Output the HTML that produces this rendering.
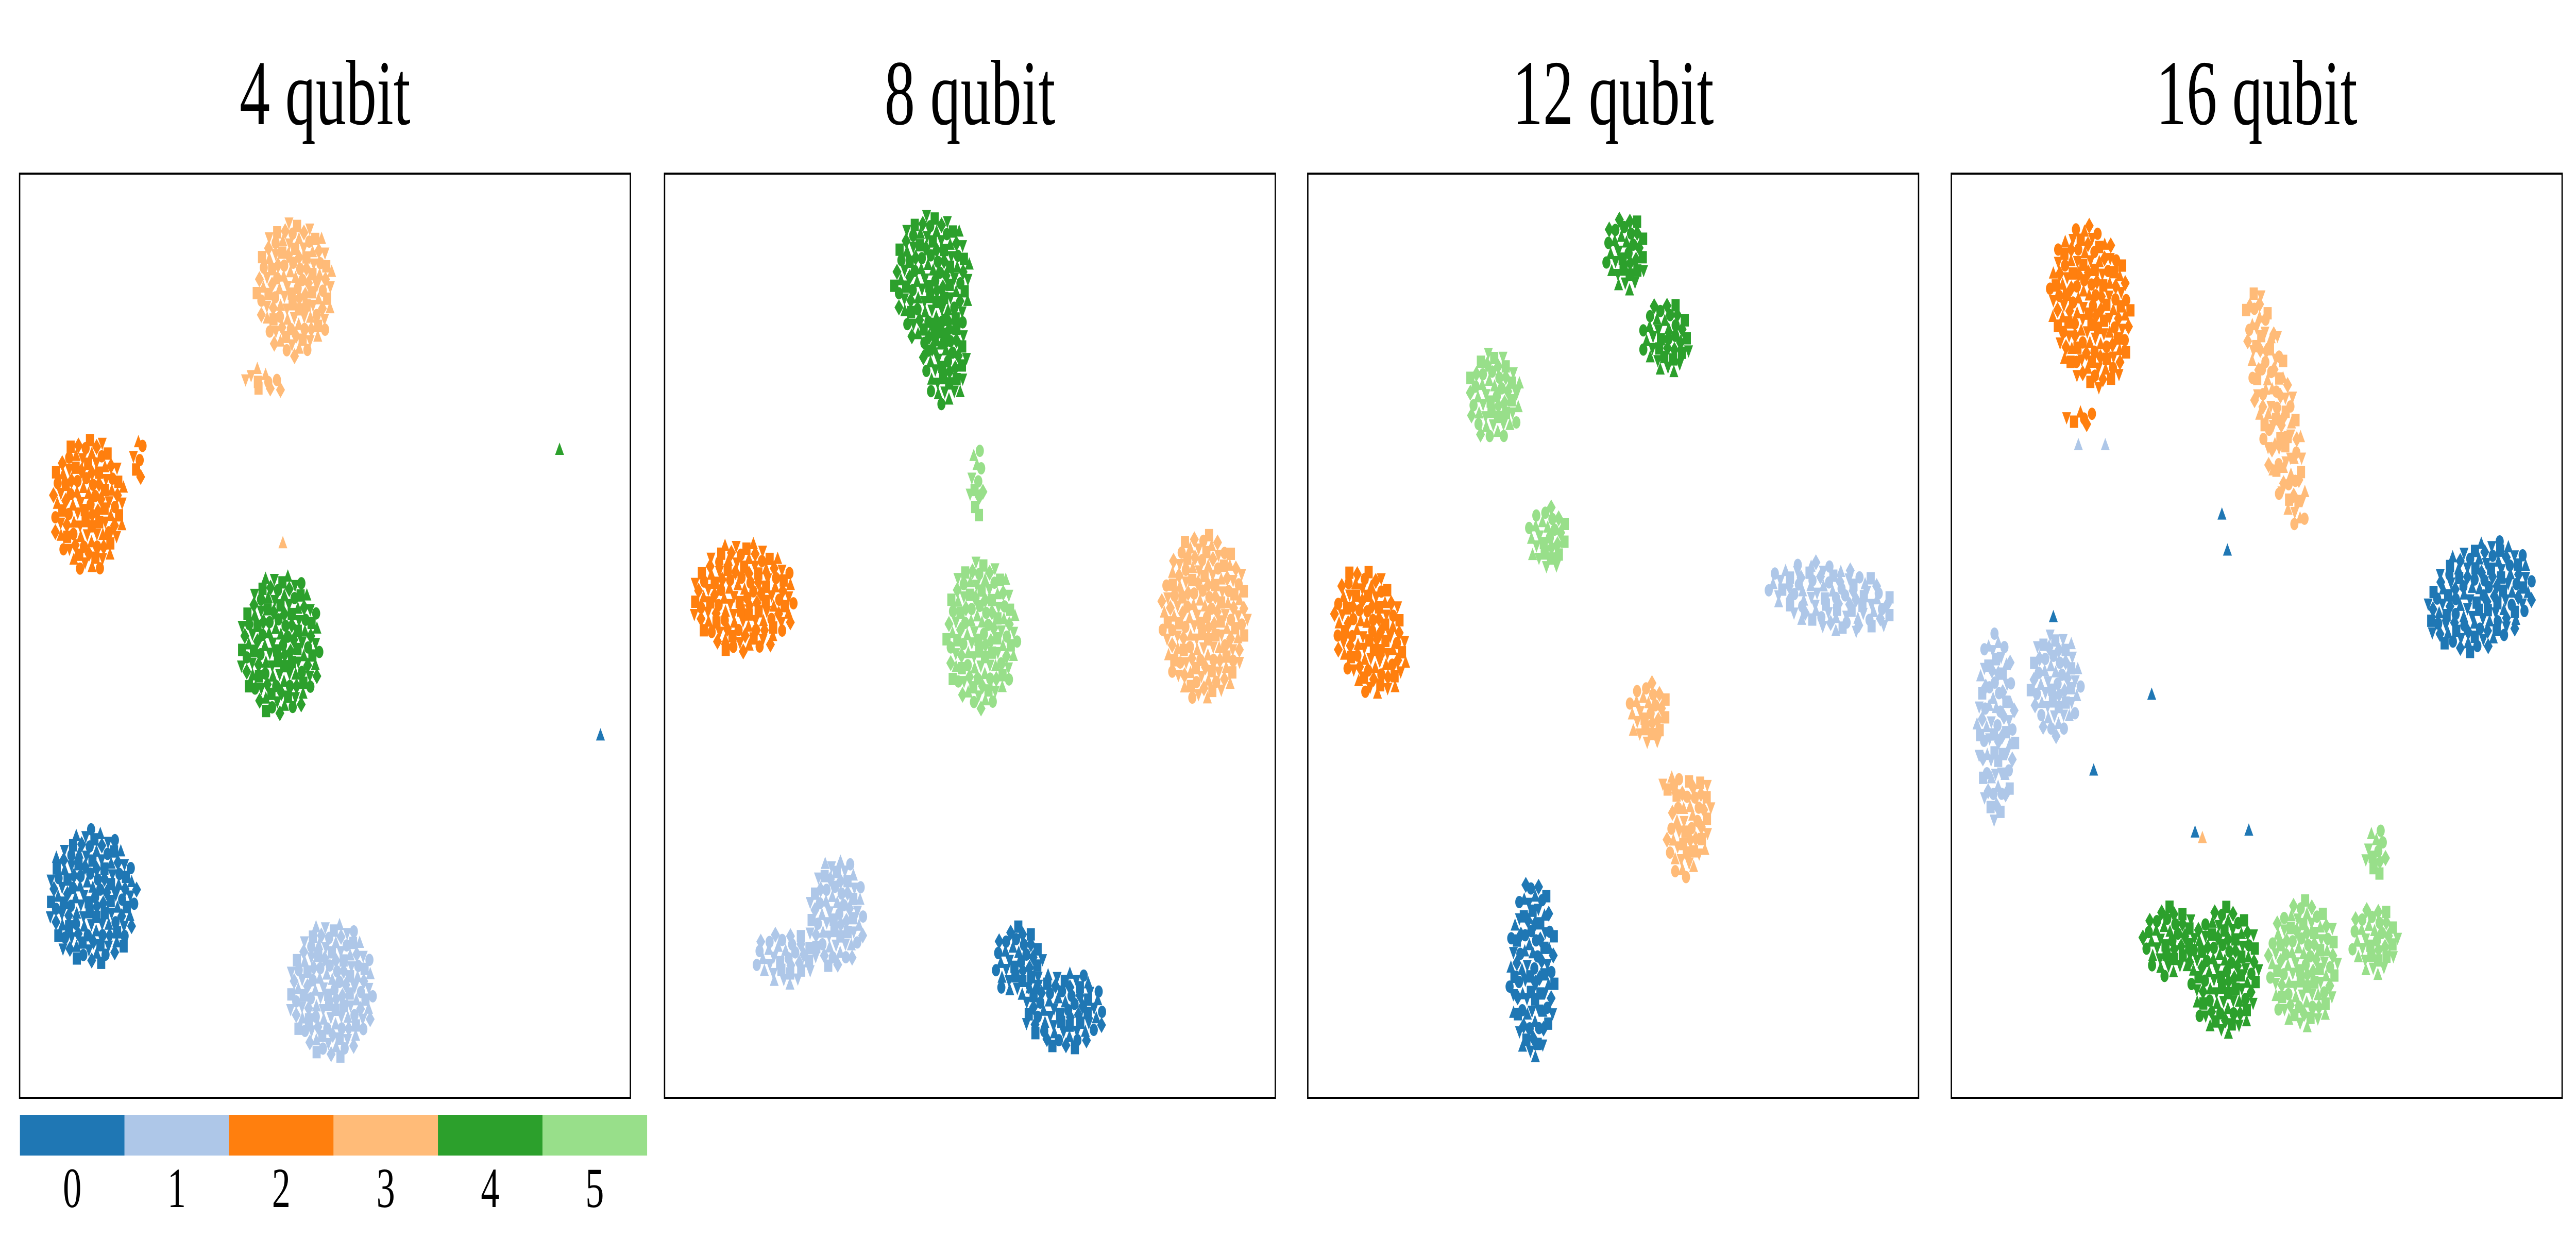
<!DOCTYPE html>
<html><head><meta charset="utf-8"><style>
html,body{margin:0;padding:0;background:#fff;width:100%;height:100%;overflow:hidden;}
svg{display:block;width:100%;height:100%;}
text{font-family:"Liberation Serif","DejaVu Serif",serif;fill:#000;}
</style></head><body>
<svg id="chart" xmlns="http://www.w3.org/2000/svg" viewBox="0 0 7617 2438" preserveAspectRatio="none">
<rect width="7617" height="2438" fill="#fff"/>
<g id="panels"></g>
<g id="colorbar"></g>
</svg>
<script>
// ---- data ----
const panelTitles = ["4 qubit", "8 qubit", "12 qubit", "16 qubit"];
const classLabels = ["0", "1", "2", "3", "4", "5"];
const classColors = ["#1f77b4", "#aec7e8", "#ff7f0e", "#ffbb78", "#2ca02c", "#98df8a"];
// clusters (data coords 0-100, y upwards)
const cPanel = [0,0,0,0,0,0,0, 1,1,1,1,1,1,1,1,1,1, 2,2,2,2,2,2,2,2,2,2, 3,3,3,3,3,3,3,3,3,3,3];
const cClass = [3,3,2,2,4,0,1, 4,4,5,5,2,3,1,1,0,0, 4,4,5,5,2,1,3,3,3,0, 2,2,3,0,1,1,4,4,5,5,5];
const cX     = [45.1,40,11.2,19.4,42.7,11.9,51.1, 43.9,46.0,51.1,51.9,13.0,88.4,28.2,19.7,57.9,65.5, 52.1,58.6,30.5,39.2,10.2,85.7,55.7,62.5,59.5,36.8, 22.8,21.0,53.1,86.6,7.3,17.0,35.7,44.7,57.6,69.2,69.5];
const cY     = [87.6,77.6,64.2,69.0,49.0,21.7,11.7, 88.4,79.7,66.7,50.2,54.1,52.0,19.9,15.1,14.7,9.5, 91.4,82.3,75.9,60.6,50.3,54.2,41.6,29.3,33.8,14.0, 85.6,73.5,74.6,54.2,40.3,44.8,17.0,13.7,14.4,17.0,26.7];
const cRx    = [6.4,3.3,6.0,0.9,6.7,7.4,7.1, 6.4,3.8,1.3,5.9,8.5,7.2,4.7,5.1,4.2,6.8, 3.5,4.2,4.5,3.2,5.5,10.6,3.2,3.5,1.6,3.9, 6.5,2.5,3.2,9.0,3.2,4.2,4.5,5.8,5.8,3.9,2.0];
const cRy    = [7.4,1.3,7.4,3.0,7.8,7.4,7.4, 7.4,4.8,3.9,8.2,6.1,9.1,6.1,3.0,3.9,4.3, 4.2,3.9,4.9,3.6,7.5,3.6,3.6,5.8,1.3,9.7, 9.1,1.0,13.6,5.8,10.4,5.8,3.9,7.1,7.1,3.9,2.6];
const cRot   = [0,-12,0,0,0,0,0, 0,0,0,0,0,0,0,0,0,0, 0,-25,0,0,30,-8,0,-20,0,0, 15,0,17,15,0,0,0,0,0,0,0];
// isolated points
const sPanel = [0,0,0, 3,3,3,3,3,3,3,3,3,3];
const sClass = [4,0,3, 0,0,0,0,0,0,0,3,1,1];
const sX     = [88.4,95.1,43.1, 16.7,32.8,23.3,39.9,48.7,44.3,45.2,41.1,20.8,25.2];
const sY     = [70.1,39.2,60.0, 52.0,43.6,35.4,28.7,28.9,63.1,59.2,28.1,70.6,70.6];

// ---- layout ----
const panelLeft = [58, 1965, 3867, 5770];
const panelTop = 337, panelW = 1806, panelH = 1794;
const NS = "http://www.w3.org/2000/svg";
function xScale(p, v){ return panelLeft[p] + v/100*panelW; }
function yScale(v){ return panelTop + (1 - v/100)*panelH; }
function mk(tag, attrs, parent){ const e=document.createElementNS(NS,tag); for(const k in attrs) e.setAttribute(k,attrs[k]); parent.appendChild(e); return e; }

function marker(parent, x, y, shape, color){
  const s = 12;
  let e;
  if(shape===0){ e=mk("circle",{cx:x.toFixed(1),cy:y.toFixed(1),r:s,fill:color},parent); }
  else if(shape===1){ e=mk("rect",{x:(x-s).toFixed(1),y:(y-s).toFixed(1),width:2*s,height:2*s,fill:color},parent); }
  else if(shape===2){ e=mk("polygon",{points:`${x},${y-s*1.2} ${x+s*1.1},${y+s*0.8} ${x-s*1.1},${y+s*0.8}`,fill:color},parent); }
  else if(shape===3){ e=mk("polygon",{points:`${x},${y-s*1.3} ${x+s*1.1},${y} ${x},${y+s*1.3} ${x-s*1.1},${y}`,fill:color},parent); }
  else { e=mk("polygon",{points:`${x},${y+s*1.2} ${x+s*1.1},${y-s*0.8} ${x-s*1.1},${y-s*0.8}`,fill:color},parent); }
  return e;
}

const gPanels = document.getElementById("panels");
for(let p=0;p<4;p++){
  const g = mk("g",{},gPanels);
  
  
  const t = mk("text",{x:panelLeft[p]+panelW/2,y:241,"font-size":180,"text-anchor":"middle"},g);
  t.textContent = panelTitles[p];
  
  
  const pts = mk("g",{},g);
  
  
  for(let c=0;c<cPanel.length;c++){
    if(cPanel[c]!==p) continue;
    const cx=xScale(p,cX[c]), cy=yScale(cY[c]);
    const rx=cRx[c]/100*panelW, ry=cRy[c]/100*panelH;
    const n=Math.max(6, Math.round(rx*ry/140));
    const a=cRot[c]*Math.PI/180;
    const col=classColors[cClass[c]];
    for(let i=0;i<n;i++){
      const r=Math.sqrt((i+0.5)/n);
      const th=i*2.39996;
      const ux=r*Math.cos(th)*rx, uy=r*Math.sin(th)*ry;
      const x=cx+ux*Math.cos(a)+uy*Math.sin(a);
      const y=cy-ux*Math.sin(a)+uy*Math.cos(a);
      marker(pts,x,y,i%5,col);
    }
  }
  for(let s=0;s<sPanel.length;s++){
    if(sPanel[s]!==p) continue;
    const m = marker(pts,xScale(p,sX[s]),yScale(sY[s]),2,classColors[sClass[s]]);
    
    
  }
  const fr = mk("rect",{x:panelLeft[p],y:panelTop,width:panelW,height:panelH,fill:"none",stroke:"#000","stroke-width":4},g);
  
  
}

// ---- colorbar ----
const cb = document.getElementById("colorbar");
const cbLeft=59, cbTop=2164, cbSeg=309, cbH=79;
for(let k=0;k<classLabels.length;k++){
  const r = mk("rect",{x:cbLeft+k*cbSeg,y:cbTop,width:cbSeg+0.5,height:cbH,fill:classColors[k]},cb);
  
  
  const t = mk("text",{x:cbLeft+k*cbSeg+cbSeg/2,y:2343,"font-size":110,"text-anchor":"middle"},cb);
  t.textContent = classLabels[k];
  
  
}
</script>
</body></html>
